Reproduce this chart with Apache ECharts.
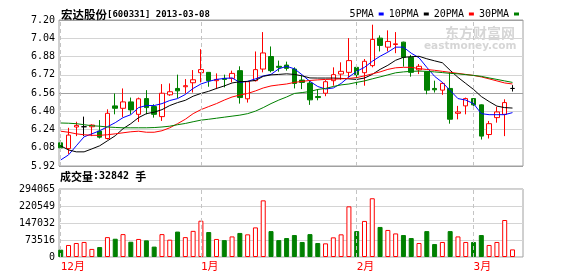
<!DOCTYPE html>
<html><head><meta charset="utf-8">
<script src="https://cdn.jsdelivr.net/npm/echarts@6/dist/echarts.min.js"></script>
<style>html,body{margin:0;padding:0;background:#fff}#c{width:578px;height:276px}</style>
</head><body><div id="c"></div>
<script>
const stockName = '宏达股份';
const stockCode = '600331';
const dates = ['2012-12-06','2012-12-07','2012-12-10','2012-12-11','2012-12-12','2012-12-13','2012-12-14','2012-12-17','2012-12-18','2012-12-19','2012-12-20','2012-12-21','2012-12-24','2012-12-25','2012-12-26','2012-12-27','2012-12-28','2012-12-31',
'2013-01-04','2013-01-07','2013-01-08','2013-01-09','2013-01-10','2013-01-11','2013-01-14','2013-01-15','2013-01-16','2013-01-17','2013-01-18','2013-01-21','2013-01-22','2013-01-23','2013-01-24','2013-01-25','2013-01-28','2013-01-29','2013-01-30','2013-01-31',
'2013-02-01','2013-02-04','2013-02-05','2013-02-06','2013-02-07','2013-02-08','2013-02-18','2013-02-19','2013-02-20','2013-02-21','2013-02-22','2013-02-25','2013-02-26','2013-02-27','2013-02-28',
'2013-03-01','2013-03-04','2013-03-05','2013-03-06','2013-03-07','2013-03-08'];
const open = [6.123,6.073,6.262,6.264,6.264,6.226,6.161,6.447,6.426,6.482,6.373,6.511,6.441,6.353,6.544,6.600,6.615,6.650,6.738,6.741,6.668,6.688,6.688,6.756,6.509,6.668,6.770,6.880,6.794,6.805,6.770,6.673,6.647,6.529,6.558,6.668,6.726,6.741,6.785,6.738,6.800,7.041,6.962,6.985,7.006,6.873,6.763,6.747,6.600,6.585,6.600,6.382,6.447,6.511,6.456,6.196,6.344,6.373,6.600];
const close = [6.079,6.191,6.276,6.264,6.279,6.173,6.382,6.426,6.482,6.412,6.509,6.432,6.373,6.558,6.571,6.579,6.624,6.676,6.765,6.668,6.679,6.679,6.732,6.520,6.659,6.765,6.911,6.756,6.785,6.776,6.644,6.653,6.500,6.520,6.659,6.721,6.750,6.844,6.721,6.838,7.030,6.977,7.012,6.991,6.873,6.741,6.794,6.585,6.588,6.644,6.330,6.394,6.511,6.456,6.182,6.291,6.394,6.476,6.600];
const low = [6.050,6.026,6.182,6.182,6.182,6.161,6.152,6.373,6.350,6.373,6.306,6.373,6.344,6.315,6.535,6.514,6.556,6.564,6.653,6.615,6.594,6.609,6.653,6.467,6.476,6.661,6.741,6.741,6.747,6.756,6.600,6.594,6.456,6.496,6.532,6.624,6.676,6.697,6.624,6.624,6.785,6.924,6.924,6.909,6.791,6.703,6.726,6.549,6.564,6.544,6.291,6.329,6.373,6.414,6.152,6.161,6.300,6.182,6.573];
const high = [6.143,6.255,6.308,6.353,6.286,6.323,6.417,6.556,6.600,6.520,6.520,6.585,6.461,6.638,6.644,6.721,6.682,6.761,6.944,6.741,6.732,6.721,6.756,6.794,6.661,6.924,7.094,6.968,6.844,6.835,6.785,6.712,6.668,6.594,6.673,6.785,6.829,7.041,6.809,6.858,7.159,7.065,7.109,7.094,7.010,6.894,6.814,6.750,6.668,6.653,6.741,6.447,6.520,6.515,6.460,6.315,6.438,6.505,6.629];
const volume = [31700,52000,60500,65000,35000,43000,86000,79000,99000,66000,78000,72000,45000,99000,75000,110000,86000,113000,157000,108000,78000,73000,89000,104000,98000,128000,245000,112000,73000,82000,95000,65000,99000,60500,59000,85000,98000,219000,112000,156000,254000,130000,117000,102000,95000,82000,60500,112000,56000,65000,112000,89000,65000,65000,95000,52000,65000,160000,32842];
const ma5 = [5.973,6.017,6.097,6.176,6.202,6.229,6.264,6.300,6.344,6.370,6.432,6.450,6.450,6.467,6.494,6.511,6.547,6.600,6.639,6.662,6.679,6.688,6.692,6.653,6.662,6.684,6.710,6.723,6.772,6.794,6.772,6.719,6.662,6.617,6.595,6.604,6.644,6.701,6.750,6.785,6.838,6.882,6.918,6.962,6.962,6.909,6.869,6.785,6.706,6.653,6.582,6.511,6.498,6.467,6.379,6.370,6.370,6.370,6.388];
const ma10 = [6.097,6.061,6.044,6.044,6.070,6.097,6.141,6.185,6.247,6.291,6.344,6.379,6.392,6.414,6.450,6.476,6.496,6.532,6.556,6.575,6.600,6.622,6.648,6.659,6.662,6.670,6.706,6.719,6.723,6.728,6.723,6.710,6.692,6.691,6.691,6.691,6.688,6.684,6.679,6.691,6.723,6.767,6.803,6.847,6.873,6.878,6.882,6.860,6.842,6.825,6.759,6.697,6.644,6.591,6.529,6.485,6.445,6.432,6.428];
const ma20 = [6.225,6.216,6.202,6.194,6.189,6.189,6.194,6.202,6.211,6.220,6.225,6.216,6.216,6.229,6.255,6.291,6.330,6.379,6.414,6.441,6.467,6.498,6.525,6.542,6.556,6.578,6.604,6.622,6.631,6.639,6.653,6.662,6.670,6.675,6.679,6.681,6.684,6.688,6.695,6.710,6.728,6.745,6.767,6.781,6.785,6.785,6.774,6.766,6.759,6.750,6.741,6.732,6.723,6.714,6.701,6.684,6.666,6.648,6.639];
const ma30 = [6.297,6.295,6.291,6.282,6.273,6.269,6.262,6.258,6.255,6.255,6.255,6.255,6.257,6.262,6.269,6.282,6.293,6.308,6.322,6.330,6.339,6.348,6.357,6.366,6.379,6.401,6.432,6.467,6.498,6.525,6.556,6.564,6.573,6.591,6.600,6.617,6.631,6.639,6.653,6.666,6.684,6.701,6.719,6.737,6.745,6.750,6.752,6.750,6.745,6.739,6.732,6.728,6.721,6.714,6.706,6.692,6.679,6.666,6.653];
const maNames = ['5PMA','10PMA','20PMA','30PMA'];
const priceMin = 5.92, priceMax = 7.20, priceStep = 0.16;
const volTickLabels = ['0','73516','147032','220549','294065'];
const volMax = 294065;

const RED = '#ff0000', GREEN = '#008000';
const volStep = volMax / 4;
const monthTicks = [], monthNames = [];
dates.forEach((d, i) => {
  const m = +d.slice(5, 7);
  if (i === 0 || m !== +dates[i - 1].slice(5, 7)) { monthTicks.push(i); monthNames.push(m + '月'); }
});
const xMin = -0.22, xMax = 59.35;
const mono = 'DejaVu Sans Mono';
const cjk = 'Noto Sans CJK SC';

const candleData = dates.map((d, i) => {
  const item = { value: [i, open[i], close[i], low[i], high[i]] };
  if (open[i] === close[i]) item.itemStyle = { borderColor: '#000', borderColor0: '#000' };
  return item;
});
const volData = dates.map((d, i) => ({
  value: [i, volume[i]],
  itemStyle: close[i] >= open[i]
    ? { color: '#ffffff', borderColor: RED, borderWidth: 1 }
    : { color: GREEN, borderColor: GREEN, borderWidth: 1 }
}));
function monthLine(y0, y1) {
  return {
    silent: true, symbol: ['none', 'none'], animation: false,
    label: { show: false },
    lineStyle: { color: '#c4c4c4', type: [4, 3], width: 1 },
    emphasis: { disabled: true },
    data: monthTicks.map(i => [{ coord: [i, y0] }, { coord: [i, y1] }])
  };
}
const maColors = ['#0000ff', '#000000', RED, GREEN];
const maSeries = [ma5, ma10, ma20, ma30].map((arr, k) => ({
  name: maNames[k], type: 'line', xAxisIndex: 0, yAxisIndex: 0,
  data: arr.map((v, i) => [i, v]), symbol: 'none', showSymbol: false,
  lineStyle: { color: maColors[k], width: 1 }, itemStyle: { color: maColors[k] },
  z: 3, silent: true, animation: false
}));
const gridLineColors = [];
for (let k = 0; k <= Math.round((priceMax - priceMin) / priceStep); k++) gridLineColors.push(k % 4 === 0 ? '#a0a0a0' : '#d4d4d4');

const chart = echarts.init(document.getElementById('c'), null, { renderer: 'canvas' });
chart.setOption({
  animation: false,
  backgroundColor: '#ffffff',
  title: [
    { text: '{a|' + stockName + '}{b|[' + stockCode + '] ' + dates[dates.length - 1] + '}', left: 61, top: 8, padding: 0,
      textStyle: { rich: { a: { fontFamily: cjk, fontSize: 11.5, color: '#000', lineHeight: 13 }, b: { fontFamily: mono, fontSize: 9, color: '#000', lineHeight: 13 } } } },
    { text: '{a|成交量}{b|:' + volume[volume.length - 1] + ' }{a|手}', left: 60, top: 170, padding: 0,
      textStyle: { rich: { a: { fontFamily: cjk, fontSize: 11, color: '#000', lineHeight: 13 }, b: { fontFamily: mono, fontSize: 10, color: '#000', lineHeight: 13 } } } },
    { text: '东方财富网', left: 445, top: 26, padding: 0,
      textStyle: { fontFamily: cjk, fontSize: 14, fontWeight: 'bold', color: '#d6d6d6' } },
    { text: 'eastmoney.com', left: 424, top: 41, padding: 0,
      textStyle: { fontFamily: 'DejaVu Sans', fontSize: 10.5, fontWeight: 'bold', color: '#d6d6d6' } }
  ],
  legend: {
    data: maNames, right: 59, top: 9, align: 'right', icon: 'rect',
    itemWidth: 5, itemHeight: 3, itemGap: 5, padding: 0, selectedMode: false,
    textStyle: { fontFamily: mono, fontSize: 10, color: '#000' }
  },
  grid: [
    { left: 59, right: 55, top: 20, height: 146, show: true, borderColor: '#a0a0a0', borderWidth: 1 },
    { left: 59, right: 55, top: 189, height: 68, show: true, borderColor: '#a0a0a0', borderWidth: 1 }
  ],
  xAxis: [
    { type: 'value', gridIndex: 0, min: xMin, max: xMax, show: false },
    { type: 'value', gridIndex: 1, min: xMin, max: xMax,
      axisLine: { show: false }, axisTick: { show: false }, splitLine: { show: false },
      axisLabel: { customValues: monthTicks, formatter: v => monthNames[monthTicks.indexOf(Math.round(v))] || '',
        color: RED, fontFamily: mono + ',' + cjk, fontSize: 11, align: 'left', margin: 5 } }
  ],
  yAxis: [
    { type: 'value', gridIndex: 0, min: priceMin, max: priceMax, interval: priceStep,
      axisLine: { show: false }, axisTick: { show: false },
      axisLabel: { formatter: v => v.toFixed(2), fontFamily: mono, fontSize: 10, color: '#000', margin: 4 },
      splitLine: { show: true, lineStyle: { color: gridLineColors, width: 1 } } },
    { type: 'value', gridIndex: 1, min: 0, max: volMax, interval: volStep,
      axisLine: { show: false }, axisTick: { show: false },
      axisLabel: { formatter: v => volTickLabels[Math.round(v / volStep)], fontFamily: mono, fontSize: 10, color: '#000', margin: 4 },
      splitLine: { show: true, lineStyle: { color: '#d4d4d4', width: 1 } } }
  ],
  series: [
    { type: 'candlestick', name: 'K', xAxisIndex: 0, yAxisIndex: 0, data: candleData, barWidth: 5, clip: false, z: 2,
      itemStyle: { color: '#ffffff', color0: GREEN, borderColor: RED, borderColor0: GREEN, borderWidth: 1 },
      markLine: monthLine(priceMin, priceMax), silent: true },
    ...maSeries,
    { type: 'bar', name: 'VOL', xAxisIndex: 1, yAxisIndex: 1, data: volData, barWidth: 5, clip: false, z: 2,
      markLine: monthLine(0, volMax), silent: true }
  ]
});
</script></body></html>
